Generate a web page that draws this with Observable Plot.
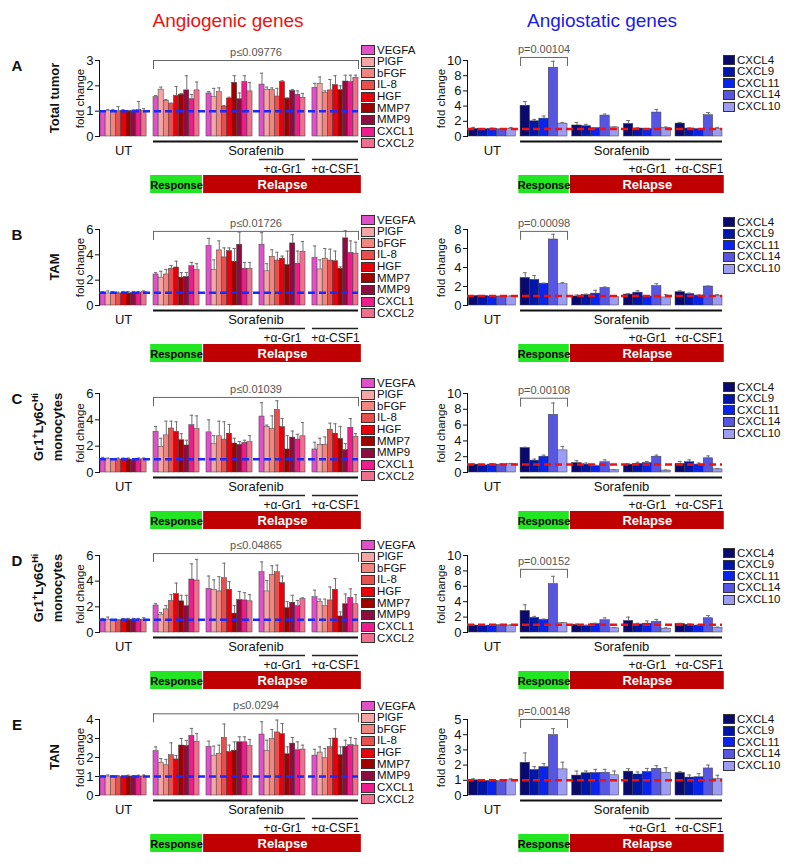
<!DOCTYPE html>
<html><head><meta charset="utf-8">
<script src="https://cdn.jsdelivr.net/npm/d3@7"></script>
<script src="https://cdn.jsdelivr.net/npm/@observablehq/plot@0.6"></script>
<style>
body{margin:0;background:#fff;font-family:"Liberation Sans",Arial,sans-serif;color:#111}
#fig{position:relative;width:800px;height:867px;overflow:hidden}
.abs{position:absolute}
.title{font-size:19px;transform:translate(-50%,-50%);white-space:nowrap}
.letter{font-weight:bold;font-size:15px;transform:translate(-50%,-50%)}
.rowlab{font-weight:bold;font-size:13px;line-height:19px;text-align:center;white-space:nowrap;transform:translate(-50%,-50%) rotate(-90deg)}
.rowlab sup{font-size:9px;line-height:0}
.litem{display:flex;align-items:center;height:11px;font-size:11.5px;white-space:nowrap;line-height:11px}
.sw{border:1px solid #333;margin-right:2px;flex:none}
.panel{position:absolute}
.panel [aria-label^="y-axis"] text{font-size:13px}
</style></head>
<body><div id="fig"></div>
<script>
// ---------- data ----------
const groups = ["UT", "Response", "Relapse", "+α-Gr1", "+α-CSF1"];
const angiogenicGenes = ["VEGFA", "PlGF", "bFGF", "IL-8", "HGF", "MMP7", "MMP9", "CXCL1", "CXCL2"];
const angiostaticGenes = ["CXCL4", "CXCL9", "CXCL11", "CXCL14", "CXCL10"];
const rowLetters = ["A", "B", "C", "D", "E"];
const cellTypes = ["Total tumor", "TAM", "Gr1<sup>+</sup>Ly6C<sup>Hi</sup><br>monocytes", "Gr1<sup>+</sup>Ly6G<sup>Hi</sup><br>monocytes", "TAN"];
const treatmentLabels = [{label: "UT", from: 0, to: 0}, {label: "Sorafenib", from: 1, to: 4}];
const comboLabels = [{label: "+α-Gr1", group: 3}, {label: "+α-CSF1", group: 4}];
const phaseLabels = [{label: "Response", from: 1, to: 1}, {label: "Relapse", from: 2, to: 4}];
const pAngiogenic = ["p≤0.09776", "p≤0.01726", "p≤0.01039", "p≤0.04865", "p≤0.0294"];
const pAngiostatic = ["p=0.00104", "p=0.00098", "p=0.00108", "p=0.00152", "p=0.00148"];
const ticksAngiogenic = [[0,1,2,3],[0,2,4,6],[0,2,4,6],[0,2,4,6],[0,1,2,3,4]];
const ticksAngiostatic = [[0,2,4,6,8,10],[0,2,4,6,8],[0,2,4,6,8,10],[0,2,4,6,8,10],[0,1,2,3,4,5]];

// means per group (UT, Response, Relapse, +a-Gr1, +a-CSF1), errors = top of error bar
const tumorAngiogenic = [
  [1.0,1.0,1.0,1.0,1.0,1.0,1.0,1.05,1.0],
  [1.55,1.85,1.4,1.28,1.6,1.65,1.82,1.47,1.82],
  [1.7,1.55,1.75,1.18,1.5,2.12,1.47,2.15,1.78],
  [2.05,1.85,1.83,1.58,2.15,1.5,1.8,1.65,1.53],
  [1.92,2.08,1.73,1.82,2.03,1.83,2.17,2.15,2.32]];
const tumorAngiogenicErr = [
  [1.02,1.06,1.06,1.18,1.06,1.03,1.05,1.38,1.1],
  [1.62,1.95,1.46,1.32,1.97,1.7,2.4,1.66,2.15],
  [1.77,1.9,1.92,1.22,1.55,2.4,1.72,2.4,2.13],
  [2.5,1.95,1.92,1.9,2.2,1.52,1.85,1.8,1.7],
  [2.1,2.35,1.8,2.25,2.4,2.0,2.42,2.42,2.42]];
const tumorAngiostatic = [
  [1.0,0.95,1.0,0.95,1.0],[4.05,2.0,2.35,9.05,1.7],[1.45,1.35,1.1,2.75,1.2],[1.65,1.05,1.0,3.15,1.15],[1.7,1.05,1.0,2.8,1.0]];
const tumorAngiostaticErr = [
  [1.2,1.05,1.1,1.05,1.2],[4.6,2.25,2.7,9.9,1.85],[1.85,1.6,1.15,2.95,1.25],[2.1,1.15,1.05,3.55,1.25],[1.85,1.12,1.05,3.15,1.2]];

const tamAngiogenic = [
  [1.0,0.95,1.0,0.95,0.95,0.95,1.0,1.0,1.05],
  [2.45,2.2,2.45,2.9,3.0,2.2,2.25,3.1,2.8],
  [4.7,2.8,4.35,3.8,4.3,3.45,4.8,2.9,2.9],
  [4.8,2.7,3.85,3.55,3.7,3.2,4.9,3.3,4.25],
  [3.75,2.85,3.7,3.55,3.5,2.9,5.3,4.15,4.1]];
const tamAngiogenicErr = [
  [1.1,1.15,1.1,1.05,1.1,1.1,1.1,1.1,1.15],
  [2.6,2.7,2.85,3.15,3.5,2.6,2.6,3.4,3.3],
  [5.3,3.6,5.1,4.55,4.55,4.5,5.8,3.4,3.4],
  [5.75,3.3,4.4,4.2,3.9,4.3,5.6,4.3,5.05],
  [4.7,3.6,4.5,4.45,4.3,3.05,5.9,5.1,5.0]];
const tamAngiostatic = [
  [1.0,1.0,0.95,0.95,0.95],[2.9,2.7,2.3,6.95,2.25],[0.95,1.1,1.25,1.85,0.9],[1.15,1.35,0.95,2.05,0.85],[1.4,1.2,1.05,2.0,1.0]];
const tamAngiostaticErr = [
  [1.05,1.05,1.0,1.0,1.0],[3.45,3.15,2.35,7.5,2.4],[1.1,1.2,1.6,1.95,0.95],[1.25,1.55,1.0,2.3,1.15],[1.55,1.3,1.1,2.05,1.15]];

const ly6cAngiogenic = [
  [1.05,1.0,0.95,1.0,0.95,1.0,0.95,1.0,1.0],
  [3.09,1.95,2.82,3.34,3.09,2.45,2.05,3.59,3.29],
  [3.05,2.15,2.75,2.5,2.95,2.2,2.1,2.25,2.3],
  [4.25,3.45,3.3,4.75,3.45,1.75,2.65,2.5,2.75],
  [1.75,2.1,2.1,3.25,2.95,2.55,1.7,3.4,2.7]];
const ly6cAngiogenicErr = [
  [1.15,1.1,1.05,1.1,1.1,1.1,1.05,1.1,1.1],
  [3.5,2.6,3.9,3.9,3.85,2.95,2.45,4.35,4.3],
  [4.0,2.8,3.9,3.85,3.65,2.6,2.35,2.45,2.8],
  [5.3,3.6,4.3,5.45,4.1,2.8,3.15,2.9,3.8],
  [2.3,2.6,2.7,3.75,3.7,3.5,2.2,4.1,2.95]];
const ly6cAngiostatic = [
  [1.0,0.9,1.0,1.0,1.05],[3.1,1.5,2.0,7.3,2.8],[1.2,1.0,0.8,1.3,0.3],[1.0,1.1,1.2,2.0,0.25],[1.1,1.3,1.0,1.8,0.4]];
const ly6cAngiostaticErr = [
  [1.1,1.0,1.1,1.1,1.15],[3.2,1.7,2.2,8.8,3.3],[1.5,1.2,0.9,1.6,0.35],[1.1,1.3,1.4,2.2,0.3],[1.4,1.6,1.2,2.1,0.5]];

const ly6gAngiogenic = [
  [1.0,1.0,0.9,0.95,0.95,1.0,1.0,1.0,1.0],
  [2.1,1.35,1.8,2.45,3.0,2.43,2.05,4.13,4.05],
  [3.4,3.33,3.2,4.23,3.33,1.47,2.53,2.5,2.43],
  [4.7,3.2,4.5,4.7,3.85,1.9,2.32,2.05,2.6],
  [2.75,2.4,2.05,2.5,3.33,1.25,2.2,2.7,2.2]];
const ly6gAngiogenicErr = [
  [1.1,1.2,1.0,1.0,1.1,1.1,1.1,1.1,1.15],
  [2.25,1.55,2.1,2.95,3.85,2.9,2.9,5.35,5.7],
  [4.4,4.1,4.35,5.4,3.97,2.1,3.2,3.1,2.95],
  [5.5,4.05,5.2,5.25,4.4,2.4,2.9,2.5,2.7],
  [3.3,2.6,2.6,3.55,4.2,1.6,3.0,3.4,2.95]];
const ly6gAngiostatic = [
  [0.9,0.85,0.9,0.95,0.9],[2.8,1.9,1.65,6.3,1.2],[1.0,0.85,1.1,1.6,0.55],[1.5,1.05,1.15,1.4,0.5],[1.1,1.0,0.9,1.85,0.6]];
const ly6gAngiostaticErr = [
  [1.0,1.0,1.0,1.05,1.0],[3.6,2.1,1.75,7.3,1.3],[1.1,0.95,1.2,1.9,0.65],[2.0,1.2,1.5,1.7,0.6],[1.2,1.1,1.0,2.2,0.7]];

const tanAngiogenic = [
  [1.0,1.0,1.0,1.0,0.95,1.0,1.0,1.0,1.0],
  [2.33,1.73,1.59,2.12,1.9,2.63,2.61,3.14,2.82],
  [2.56,2.1,2.2,3.03,2.29,2.36,2.8,2.8,2.61],
  [3.21,2.33,2.98,3.32,3.23,2.17,2.73,2.38,2.42],
  [2.1,2.26,1.96,2.54,3.0,2.12,2.56,2.65,2.63]];
const tanAngiogenicErr = [
  [1.05,1.08,1.05,1.05,1.0,1.07,1.05,1.07,1.08],
  [2.56,1.94,1.9,2.77,2.1,3.0,2.9,3.53,3.26],
  [2.86,2.6,2.65,3.76,2.65,2.82,3.09,3.09,2.95],
  [3.88,2.91,3.47,3.97,3.79,2.56,3.05,2.82,2.65],
  [2.43,2.56,2.47,3.0,3.51,2.56,2.91,3.05,3.0]];
const tanAngiostatic = [
  [1.0,0.95,0.95,0.95,1.0],[2.15,1.68,1.87,3.98,1.72],[1.31,1.46,1.48,1.5,1.33],[1.57,1.38,1.55,1.76,1.5],[1.48,1.18,1.2,1.78,1.08]];
const tanAngiostaticErr = [
  [1.1,1.05,1.05,1.05,1.1],[2.8,1.9,2.1,4.4,2.19],[1.61,1.61,1.72,1.72,1.61],[1.76,1.55,1.78,1.96,1.83],[1.57,1.35,1.44,2.0,1.33]];

// ---------- styles & layout ----------
const angiogenicColors = ["#e050c8","#f5a5a5","#f0867f","#e8504d","#e8000c","#a00000","#8e0c40","#ee1c8c","#f06e8e"];
const angiostaticColors = ["#0a0a6e","#0016a8","#0a24f0","#5656e2","#9c9cf2"];
const phaseFill = ["#22e622", "#c00000"];
const phaseText = ["#000", "#fff"];
const layout = {
  rowTop: [60, 229, 393, 555, 719],
  rowZero: [136, 305, 472, 632, 795],
  legendTopL: [50, 220, 383, 545, 706],
  legendTopR: [60, 222, 387, 553, 719],
  bracketYL: [3.0, 5.85, 5.7, 6.15, 4.3],
  bracketYR: [10.4, 7.8, 9.4, 8.2, 5.0],
  mt: 36, mb: 64
};
const rowData = [
  [tumorAngiogenic, tumorAngiogenicErr, tumorAngiostatic, tumorAngiostaticErr],
  [tamAngiogenic, tamAngiogenicErr, tamAngiostatic, tamAngiostaticErr],
  [ly6cAngiogenic, ly6cAngiogenicErr, ly6cAngiostatic, ly6cAngiostaticErr],
  [ly6gAngiogenic, ly6gAngiogenicErr, ly6gAngiostatic, ly6gAngiostaticErr],
  [tanAngiogenic, tanAngiogenicErr, tanAngiostatic, tanAngiostaticErr]
];

const fig = document.getElementById("fig");
function addDiv(cls, html, left, top) {
  const d = document.createElement("div");
  d.className = "abs " + cls;
  d.innerHTML = html;
  d.style.left = left + "px"; d.style.top = top + "px";
  fig.appendChild(d);
  return d;
}

function panel(o) {
  const n = o.genes.length, gap = o.gap;
  const start = g => g * (n + gap);
  const end = g => start(g) + n;
  const total = end(groups.length - 1);
  const bars = [];
  groups.forEach((grp, g) => o.genes.forEach((gene, i) => bars.push({
    g, i, gene, v: o.means[g][i], e: o.errs[g][i], x1: start(g) + i, x2: start(g) + i + 1, c: start(g) + i + 0.5
  })));
  const yMax = o.ticks[o.ticks.length - 1];
  const bx1 = start(o.pFrom), bx2 = end(o.pTo);
  const marks = [
    Plot.rect(bars, {x1: "x1", x2: "x2", y1: 0, y2: "v", fill: d => o.colors[d.i], stroke: "#3c3c3c", strokeWidth: 0.5}),
    Plot.ruleX(bars, {x: "c", y1: "v", y2: "e", stroke: "#707070", strokeWidth: 1}),
    Plot.ruleY(bars, {y: "e", x1: d => d.c - o.cap, x2: d => d.c + o.cap, stroke: "#707070", strokeWidth: 1}),
    Plot.ruleY([1], {stroke: o.dash, strokeWidth: 2.5, strokeDasharray: "7,4"}),
    Plot.ruleY([o.pY], {y: d => d, x1: bx1, x2: bx2, stroke: "#666", strokeWidth: 1}),
    Plot.ruleX([bx1, bx2], {x: d => d, y1: o.pY, y2: o.pY, insetBottom: -9, stroke: "#666", strokeWidth: 1}),
    Plot.text([o.pText], {x: (bx1 + bx2) / 2, y: o.pY, dy: -8, text: d => d, fontSize: 11, fill: "#555"}),
    Plot.text(["fold change"], {x: -o.pad, y: yMax / 2, rotate: -90, dx: o.labelDx, text: d => d, fontSize: 11.5, fill: "#111"}),
    Plot.ruleY(treatmentLabels.filter(d => d.to > d.from), {y: 0, x1: d => start(d.from), x2: d => end(d.to), dy: 5, stroke: "#111", strokeWidth: 2}),
    Plot.text(treatmentLabels, {x: d => (start(d.from) + end(d.to)) / 2, y: 0, dy: 14, text: "label", fontSize: 13, fill: "#111"}),
    Plot.ruleY(comboLabels, {y: 0, x1: d => start(d.group), x2: d => end(d.group), dy: 23, stroke: "#222", strokeWidth: 1.5}),
    Plot.text(comboLabels, {x: d => (start(d.group) + end(d.group)) / 2, y: 0, dy: 33, text: "label", fontSize: 12, fill: "#111"}),
    Plot.rect(phaseLabels, {x1: d => start(d.from) - gap / 2, x2: d => end(d.to) + gap / 2, y1: 0, y2: 0,
      insetBottom: -18, insetLeft: 0.6, insetRight: 0.6, dy: 39, fill: (d, k) => phaseFill[k]}),
    ...phaseLabels.map((p, k) => Plot.text([p], {x: (start(p.from) - gap / 2 + end(p.to) + gap / 2) / 2, y: 0, dy: 48.5,
      text: "label", fontWeight: "bold", fontSize: k === 0 ? 11 : 13, fill: phaseText[k]}))
  ];
  const inner = o.zero - o.top;
  return Plot.plot({
    width: o.width, height: layout.mt + inner + layout.mb,
    marginTop: layout.mt, marginBottom: layout.mb, marginLeft: o.marginLeft, marginRight: o.marginRight,
    x: {domain: [-o.pad, total], axis: null},
    y: {domain: [0, yMax], ticks: o.ticks, tickFormat: d => String(d), tickSize: 4, tickPadding: 2, label: null, line: true},
    color: {type: "identity"},
    style: {background: "transparent", overflow: "visible", fontFamily: "'Liberation Sans', Arial, sans-serif", fontSize: "13px", color: "#111"},
    marks
  });
}

function legend(genes, colors, left, top0, swW) {
  genes.forEach((g, i) => {
    addDiv("litem", `<span class="sw" style="width:${swW}px;height:8px;background:${colors[i]}"></span>${g}`, left, top0 + i * 11.65 - 5.5);
  });
}

addDiv("title", "Angiogenic genes", 228, 21).style.color = "#ee1111";
addDiv("title", "Angiostatic genes", 602, 21).style.color = "#1a1aee";

rowLetters.forEach((L, r) => {
  const top = layout.rowTop[r], zero = layout.rowZero[r];
  const [mL, eL, mR, eR] = rowData[r];
  addDiv("letter", L, 17, top + 5);
  const twoLine = cellTypes[r].includes("<br>");
  addDiv("rowlab", cellTypes[r], twoLine ? 48 : 54, (top + zero) / 2 - (twoLine ? 6 : 0));
  const left = panel({genes: angiogenicGenes, colors: angiogenicColors, means: mL, errs: eL, ticks: ticksAngiogenic[r],
    gap: 1.35, pad: 0.2, cap: 0.32, pText: pAngiogenic[r], pFrom: 1, pTo: 4, pY: layout.bracketYL[r], dash: "#1a2aff",
    width: 400, marginLeft: 99, marginRight: 42, labelDx: -19, top, zero});
  left.classList.add("panel");
  left.style.left = "0px"; left.style.top = (top - layout.mt) + "px";
  fig.appendChild(left);
  const right = panel({genes: angiostaticGenes, colors: angiostaticColors, means: mR, errs: eR, ticks: ticksAngiostatic[r],
    gap: 0.5, pad: 0.15, cap: 0.2, pText: pAngiostatic[r], pFrom: 1, pTo: 1, pY: layout.bracketYR[r], dash: "#ee1111",
    width: 400, marginLeft: 67, marginRight: 78, labelDx: -26, top, zero});
  right.classList.add("panel");
  right.style.left = "400px"; right.style.top = (top - layout.mt) + "px";
  fig.appendChild(right);
  legend(angiogenicGenes, angiogenicColors, 361, layout.legendTopL[r], 12);
  legend(angiostaticGenes, angiostaticColors, 723, layout.legendTopR[r], 10);
});
</script></body></html>
